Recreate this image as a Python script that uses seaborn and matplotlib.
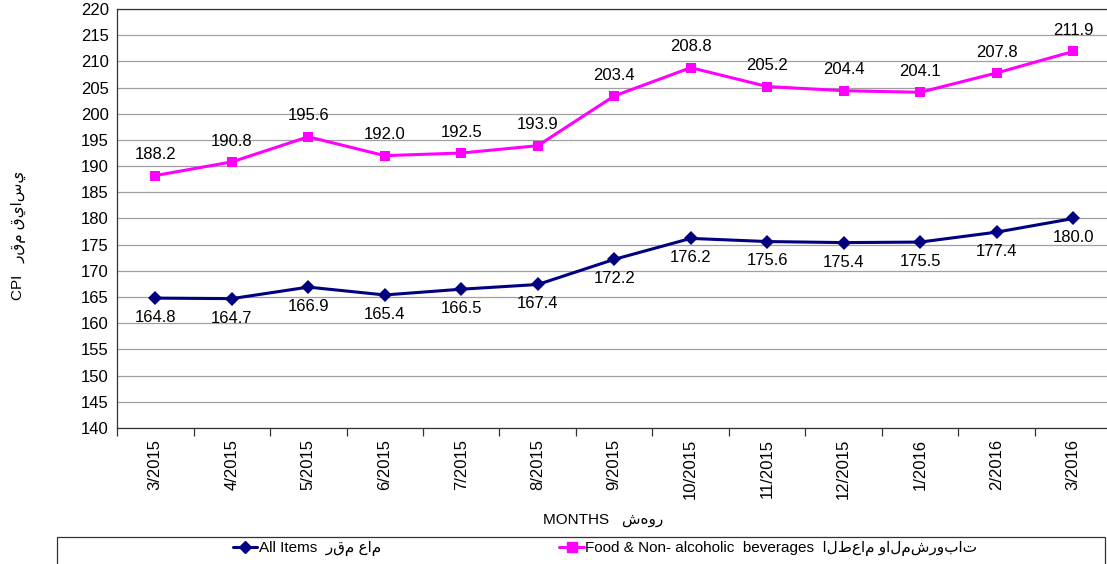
import matplotlib
matplotlib.use("Agg")
import matplotlib.pyplot as plt
import seaborn as sns
import pandas as pd
import numpy as np
from matplotlib.ticker import FixedLocator
from matplotlib.lines import Line2D
from matplotlib.patches import Rectangle

months = ["3/2015", "4/2015", "5/2015", "6/2015", "7/2015", "8/2015", "9/2015",
          "10/2015", "11/2015", "12/2015", "1/2016", "2/2016", "3/2016"]
all_items = [164.8, 164.7, 166.9, 165.4, 166.5, 167.4, 172.2, 176.2, 175.6, 175.4, 175.5, 177.4, 180.0]
food = [188.2, 190.8, 195.6, 192.0, 192.5, 193.9, 203.4, 208.8, 205.2, 204.4, 204.1, 207.8, 211.9]
series_names = ["All Items  رقم عام", "Food & Non- alcoholic  beverages  الطعام والمشروبات"]

sns.set_theme(style="white")
plt.rcParams['font.family'] = ['Liberation Sans', 'DejaVu Sans']
plt.rcParams['text.color'] = 'black'
plt.rcParams['xtick.color'] = 'black'
plt.rcParams['ytick.color'] = 'black'

df = pd.DataFrame({
    "month": months * 2,
    "x": list(range(len(months))) * 2,
    "value": all_items + food,
    "series": [series_names[0]] * len(months) + [series_names[1]] * len(months),
})

fig = plt.figure(figsize=(11.07, 5.64), dpi=100)
ax = fig.add_axes([117/1107, 1 - 428/564, (1111.5 - 117)/1107, (428 - 9)/564])

palette = {series_names[0]: "#000080", series_names[1]: "#FF00FF"}
markers = {series_names[0]: "D", series_names[1]: "s"}
sns.lineplot(data=df, x="x", y="value", hue="series", style="series",
             palette=palette, markers=markers, dashes=False, linewidth=2.2,
             markersize=7, markeredgewidth=0, ax=ax, legend=False)

ax.set_xlabel("")
ax.set_ylabel("")
ax.set_xlim(-0.5, len(months) - 0.5)
ax.set_ylim(140, 220)
ax.set_yticks(np.arange(140, 221, 5))
ax.yaxis.grid(True, color="#a0a0a0", linewidth=0.9)
ax.set_xticks(range(len(months)))
ax.set_xticklabels(months, rotation=90, fontsize=12)
ax.tick_params(axis="y", labelsize=12, length=0, pad=6)
ax.tick_params(axis="x", which="major", length=0, pad=8)
ax.xaxis.set_minor_locator(FixedLocator(np.arange(-0.5, len(months), 1)))
ax.tick_params(axis="x", which="minor", length=6, width=0.9, color="#333333", bottom=True)
for s in ["top", "left", "bottom", "right"]:
    ax.spines[s].set_color("#333333")
    ax.spines[s].set_linewidth(0.9)

for i, v in enumerate(food):
    ax.annotate(f"{v:.1f}", (i, v), xytext=(0, 15), textcoords="offset points",
                ha="center", va="center", fontsize=12)
for i, v in enumerate(all_items):
    ax.annotate(f"{v:.1f}", (i, v), xytext=(0, -14), textcoords="offset points",
                ha="center", va="center", fontsize=12)

fig.text(18/1107, 1 - 235/564, "CPI   رقم قياسي", rotation=90, ha="center", va="center", fontsize=11)
fig.text(603/1107, 1 - 520/564, "MONTHS   شهور", ha="center", va="center", fontsize=11)

fig.patches.append(Rectangle((57/1107, -0.01), (1105 - 57)/1107, (564 - 537)/564 + 0.01,
                             transform=fig.transFigure, fill=False, edgecolor="#333333", linewidth=0.9))
handles = [Line2D([0], [0], color="#000080", marker="D", lw=2.2, markersize=6),
           Line2D([0], [0], color="#FF00FF", marker="s", lw=2.2, markersize=7)]
fig.legend(handles, series_names, loc="center", bbox_to_anchor=(605/1107, 1 - 549/564),
           ncol=2, frameon=False, fontsize=11, columnspacing=11.7, handlelength=1.6,
           handletextpad=0.1)

fig.savefig("out.png", dpi=100)
